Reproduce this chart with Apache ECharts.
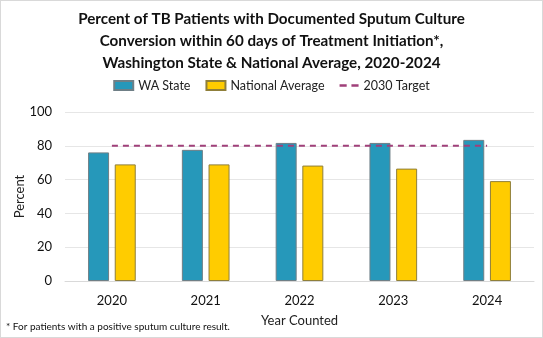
<!DOCTYPE html>
<html><head><meta charset="utf-8">
<script src="https://cdn.jsdelivr.net/npm/echarts@6/dist/echarts.min.js"></script>
<style>html,body{margin:0;padding:0;background:#fff}#c{width:543px;height:338px;box-sizing:border-box;border:1px solid #d9d9d9}</style>
</head><body><div id="c"></div>
<script>
const categories = ['2020','2021','2022','2023','2024'];
const waState = [76.1, 77.6, 81.7, 81.7, 83.5];
const nationalAvg = [69.0, 69.0, 68.3, 66.5, 59.1];
const target2030 = [80, 80, 80, 80, 80];

const FONT = 'Lato';
const TARGET_COLOR = '#A0407A';
const chart = echarts.init(document.getElementById('c'), null, {renderer:'canvas'});
chart.setOption({
  animation:false,
  title:{
    text:'Percent of TB Patients with Documented Sputum Culture\nConversion within 60 days of Treatment Initiation*,\nWashington State & National Average, 2020-2024',
    left:'center', top:2,
    textStyle:{fontFamily:FONT, fontWeight:'bold', fontSize:15.2, lineHeight:22, color:'#111'}
  },
  legend:{
    top:73, left:'center', itemGap:15, itemWidth:19, itemHeight:9,
    textStyle:{fontFamily:FONT, fontSize:12.5, color:'#222'},
    data:[
      {name:'WA State', icon:'rect'},
      {name:'National Average', icon:'rect'},
      {name:'2030 Target', icon:'path://M0,0h6v2H0zM10,0h6v2H10z', itemStyle:{color:TARGET_COLOR, borderWidth:0}}
    ]
  },
  grid:{left:64, right:8, top:111, bottom:56, outerBoundsMode:'none', containLabel:false},
  xAxis:{
    type:'category', data:categories,
    name:'Year Counted', nameLocation:'middle', nameGap:33, nameMoveOverlap:false,
    nameTextStyle:{fontFamily:FONT, fontSize:13, color:'#222'},
    axisLine:{lineStyle:{color:'#d9d9d9'}},
    axisTick:{show:false},
    axisLabel:{fontFamily:FONT, fontSize:13, color:'#111', margin:13}
  },
  yAxis:{
    type:'value', min:0, max:100, interval:20,
    name:'Percent', nameLocation:'middle', nameGap:39, nameMoveOverlap:false,
    nameTextStyle:{fontFamily:FONT, fontSize:13, color:'#222'},
    axisLabel:{fontFamily:FONT, fontSize:13, color:'#111', margin:13},
    splitLine:{lineStyle:{color:'#e6e6e6'}}
  },
  series:[
    {name:'WA State', type:'bar', data:waState, barWidth:21, barGap:'27%',
     itemStyle:{color:'#2698BA', borderColor:'#6f7f86', borderWidth:1}},
    {name:'National Average', type:'bar', data:nationalAvg, barWidth:21,
     itemStyle:{color:'#FFCC00', borderColor:'#8f7f3a', borderWidth:1}},
    {name:'2030 Target', type:'line', data:target2030, symbol:'none', z:3,
     lineStyle:{color:TARGET_COLOR, width:2, type:[6,5]}, itemStyle:{color:TARGET_COLOR}}
  ],
  graphic:[{type:'text', left:5, top:321,
    style:{text:'* For patients with a positive sputum culture result.', fontFamily:FONT, fontSize:10, fill:'#111'}}]
});
</script></body></html>
